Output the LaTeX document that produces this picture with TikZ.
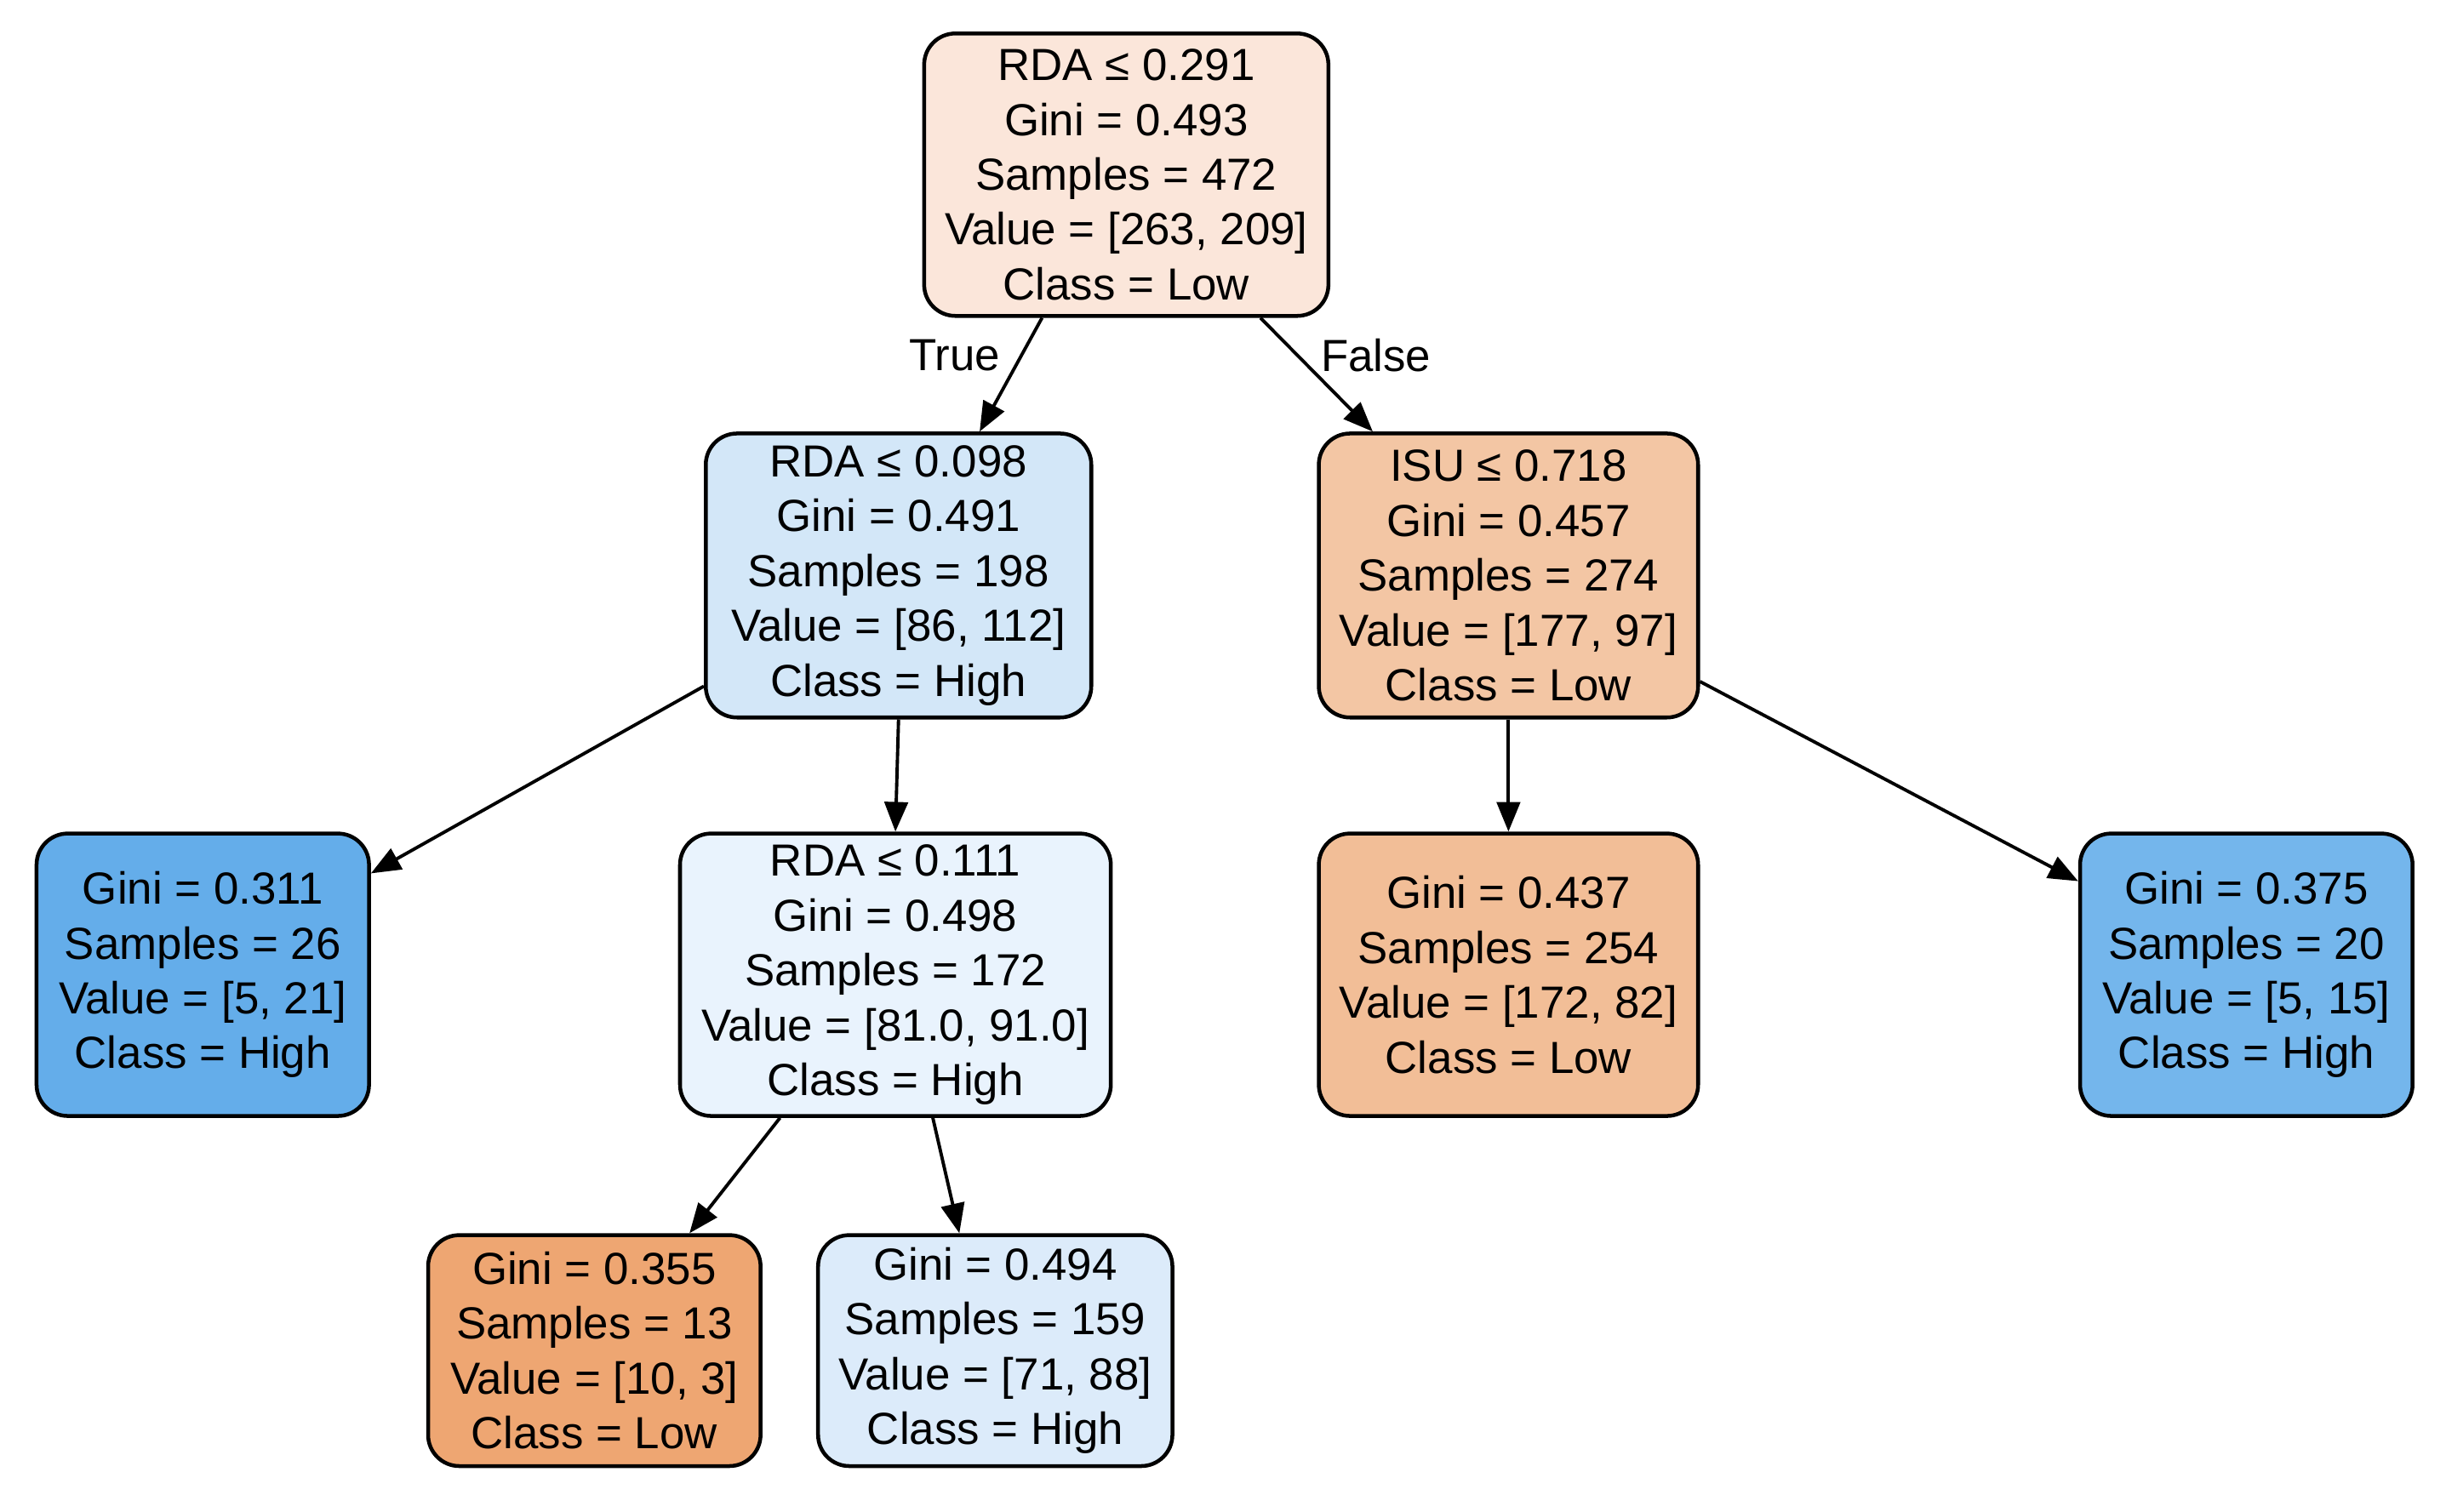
\documentclass[tikz,border=0pt]{standalone}
\usepackage{fontspec}
\setmainfont{Liberation Sans}
\usetikzlibrary{arrows.meta,calc}
\definecolor{cRoot}{HTML}{FBE6DA}
\definecolor{cLone}{HTML}{D3E7F8}
\definecolor{cRone}{HTML}{F3C6A4}
\definecolor{cA}{HTML}{64ADEA}
\definecolor{cMid}{HTML}{E9F3FD}
\definecolor{cC}{HTML}{F2BE97}
\definecolor{cD}{HTML}{74B6EC}
\definecolor{cE}{HTML}{EEA672}
\definecolor{cF}{HTML}{DCEBFA}
\begin{document}
\begin{tikzpicture}[x=0.01cm,y=-0.01cm,
  box/.style={draw=black,line width=0.7pt,rounded corners=0.2cm,align=center,
    font=\fontsize{8.2}{10}\selectfont,inner sep=0pt},
  edge/.style={line width=0.6pt,-{Triangle[length=0.19cm,width=0.15cm]}},
  lab/.style={font=\fontsize{8.2}{10}\selectfont}]
\useasboundingbox[fill=white] (0,0) rectangle (1568,969);
\node[box,fill=cRoot,minimum width=2.59cm,minimum height=1.81cm] (root) at (722,112)
  {RDA ≤ 0.291\\Gini = 0.493\\Samples = 472\\Value = [263, 209]\\Class = Low};
\node[box,fill=cLone,minimum width=2.47cm,minimum height=1.82cm] (l1) at (576,369)
  {RDA ≤ 0.098\\Gini = 0.491\\Samples = 198\\Value = [86, 112]\\Class = High};
\node[box,fill=cRone,minimum width=2.43cm,minimum height=1.82cm] (r1) at (967,369)
  {ISU ≤ 0.718\\Gini = 0.457\\Samples = 274\\Value = [177, 97]\\Class = Low};
\node[box,fill=cA,minimum width=2.13cm,minimum height=1.81cm] (la) at (130,625)
  {Gini = 0.311\\Samples = 26\\Value = [5, 21]\\Class = High};
\node[box,fill=cMid,minimum width=2.76cm,minimum height=1.81cm] (mid) at (574,625)
  {RDA ≤ 0.111\\Gini = 0.498\\Samples = 172\\Value = [81.0, 91.0]\\Class = High};
\node[box,fill=cC,minimum width=2.43cm,minimum height=1.81cm] (lc) at (967,625)
  {Gini = 0.437\\Samples = 254\\Value = [172, 82]\\Class = Low};
\node[box,fill=cD,minimum width=2.13cm,minimum height=1.81cm] (ld) at (1440,625)
  {Gini = 0.375\\Samples = 20\\Value = [5, 15]\\Class = High};
\node[box,fill=cE,minimum width=2.13cm,minimum height=1.48cm] (le) at (381,866)
  {Gini = 0.355\\Samples = 13\\Value = [10, 3]\\Class = Low};
\node[box,fill=cF,minimum width=2.27cm,minimum height=1.48cm] (lf) at (638,866)
  {Gini = 0.494\\Samples = 159\\Value = [71, 88]\\Class = High};
\draw[edge] ($(root.south)+(-54,0)$) -- ($(l1.north)+(52,0)$);
\draw[edge] ($(root.south)+(86,0)$) -- ($(r1.north)+(-87,0)$);
\node[lab] (tr) at (612,228) {True};
\node[lab] (fa) at (882,228) {False};
\draw[edge] ($(l1.west)+(0,71)$) -- ($(la.east)+(0,-65)$);
\draw[edge] (l1.south) -- (mid.north);
\draw[edge] ($(mid.south)+(-74,0)$) -- ($(le.north)+(61,0)$);
\draw[edge] ($(mid.south)+(24,0)$) -- ($(lf.north)+(-23,0)$);
\draw[edge] (r1.south) -- (lc.north);
\draw[edge] ($(r1.east)+(0,68)$) -- ($(ld.west)+(0,-60)$);
\end{tikzpicture}
\end{document}
